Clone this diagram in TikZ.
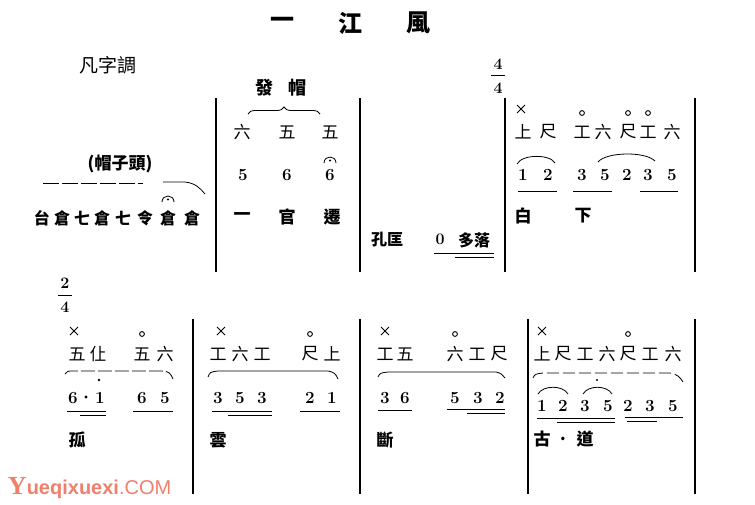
\documentclass[tikz,border=0pt]{standalone}
\usepackage{fontspec}
\newfontfamily\cjk{Noto Sans CJK TC}
\newfontfamily\wmsans{Liberation Sans}
\newfontfamily\wmserif{Liberation Serif}
\usetikzlibrary{decorations.pathreplacing}
\definecolor{wmcol}{HTML}{F0806C}
\begin{document}
\begin{tikzpicture}[x=1pt,y=-1pt,
  every node/.style={inner sep=0pt,outer sep=0pt},
  ttl/.style={font=\cjk\bfseries\fontsize{24}{24}\selectfont},
  gc/.style={font=\cjk\fontsize{17}{17}\selectfont},
  ly/.style={font=\cjk\bfseries\fontsize{16}{16}\selectfont},
  sm/.style={font=\cjk\bfseries\fontsize{16}{16}\selectfont},
  jp/.style={font=\bfseries\fontsize{17}{17}\selectfont},
  ts/.style={font=\bfseries\fontsize{16}{16}\selectfont},
  barline/.style={line width=1.6pt},
  ul/.style={line width=0.9pt},
  slur/.style={line width=0.8pt},
  longslur/.style={line width=0.8pt},
  xm/.pic={\draw[line width=0.9pt] (-4,-4)--(4,4) (-4,4)--(4,-4);},
  om/.pic={\draw[line width=0.9pt] (0,0) circle (2.4);},
  ferm/.pic={\draw[line width=0.8pt] (-6,3) .. controls (-6,-5) and (6,-5) .. (6,3);
             \fill (0,0.5) circle (1.1);}
]
\useasboundingbox[fill=white] (0,0) rectangle (755,504);

% ---------- title ----------
\node[ttl] (t1) at (282,23) {一};
\node[ttl] (t2) at (350,23) {江};
\node[ttl] (t3) at (418,23) {風};
\node[font=\cjk\fontsize{19}{19}\selectfont] (key) at (108,65) {凡字調};

% ---------- row 1 bar lines ----------
\foreach \x in {216,360,505,695} \draw[barline] (\x,98) -- (\x,272);

% ---------- measure 1 ----------
\node[font=\cjk\bfseries\fontsize{17}{17}\selectfont] (mzt) at (120,164) {(帽子頭)};
\draw[longslur,dash pattern=on 16pt off 3pt] (43,183) -- (143,183);
\draw[longslur] (163,182) -- (185,182) .. controls (195,183) and (200,188) .. (205,194);
\pic at (168,199) {ferm};
\foreach \x/\c [count=\i] in {42/台,62/倉,82/七,102/倉,123/七,145/令,168/倉,192/倉}
  \node[ly] (m1l\i) at (\x,218) {\c};

% ---------- measure 2 ----------
\node[sm,font=\cjk\bfseries\fontsize{18}{18}\selectfont] (fa) at (264,88) {發};
\node[sm,font=\cjk\bfseries\fontsize{18}{18}\selectfont] (mao) at (297,88) {帽};
\draw[line width=0.8pt,decorate,decoration={brace,amplitude=7pt}] (248,114) -- (320,114);
\foreach \x/\c [count=\i] in {242/六,287/五,330/五}
  \node[gc] (m2g\i) at (\x,132) {\c};
\foreach \x/\c [count=\i] in {243/5,287/6,330/6}
  \node[jp] (m2j\i) at (\x,175) {\c};
\pic at (330,160) {ferm};
\foreach \x/\c [count=\i] in {242/一,287/官,332/遷}
  \node[ly,font=\cjk\bfseries\fontsize{17}{17}\selectfont] (m2l\i) at (\x,217) {\c};

% ---------- measure 3 ----------
\node[sm] (kk) at (387,240) {孔匡};
\node[jp,font=\bfseries\fontsize{16}{16}\selectfont] (zero) at (440,239) {0};
\node[sm] (dl) at (474,240) {多落};
\draw[ul] (434,253) -- (494,253);
\draw[line width=0.6pt] (455,257) -- (494,257);

% ---------- time signature 4/4 ----------
\node[ts] (ts1a) at (498,64) {4};
\draw[line width=0.7pt] (491,75) -- (505,75);
\node[ts] (ts1b) at (498,88) {4};

% ---------- measure 4 ----------
\pic at (521,109) {xm};
\foreach \x in {582,628,648} \pic at (\x,113) {om};
\foreach \x/\c [count=\i] in {523/上,548/尺,582/工,603/六,628/尺,648/工,672/六}
  \node[gc] (m4g\i) at (\x,132) {\c};
\foreach \x/\c [count=\i] in {523/1,548/2,582/3,605/5,627/2,648/3,672/5}
  \node[jp] (m4j\i) at (\x,175) {\c};
\draw[slur] (517,164) .. controls (522,154) and (550,154) .. (555,163);
\draw[slur] (598,162) .. controls (606,152) and (645,151) .. (655,161);
\draw[ul] (518,191) -- (557,191);
\draw[ul] (573,191) -- (612,191);
\draw[ul] (640,191) -- (678,191);
\node[ly,font=\cjk\bfseries\fontsize{17}{17}\selectfont] (m4l1) at (523,216) {白};
\node[ly,font=\cjk\bfseries\fontsize{17}{17}\selectfont] (m4l2) at (583,216) {下};

% ---------- row 2 bar lines ----------
\foreach \x in {193,360,528,695} \draw[barline] (\x,319) -- (\x,494);

% ---------- time signature 2/4 ----------
\node[ts] (ts2a) at (65,283) {2};
\draw[line width=0.7pt] (58,295) -- (72,295);
\node[ts] (ts2b) at (65,307) {4};

% ---------- measure 5 ----------
\pic at (74,331) {xm};
\pic at (142,334) {om};
\foreach \x/\c [count=\i] in {77/五,98/仩,142/五,165/六}
  \node[gc] (m5g\i) at (\x,354) {\c};
\draw[longslur,dash pattern=on 14pt off 3pt] (65,374) .. controls (67,371) .. (75,371) -- (162,371) .. controls (169,371) and (171,374) .. (173,379);
\node[jp] (m5j1) at (73,398) {6};
\fill (86,397) circle (1.6);
\node[jp] (m5j2) at (100,398) {1};
\fill (99,380) circle (1.3);
\node[jp] (m5j3) at (142,398) {6};
\node[jp] (m5j4) at (165,398) {5};
\draw[ul] (67,411) -- (106,411);
\draw[ul] (80,415) -- (106,415);
\draw[ul] (133,411) -- (173,411);
\node[ly,font=\cjk\bfseries\fontsize{17}{17}\selectfont] (m5l1) at (77,440) {孤};

% ---------- measure 6 ----------
\pic at (221,331) {xm};
\pic at (310,334) {om};
\foreach \x/\c [count=\i] in {218/工,240/六,262/工,310/尺,332/上}
  \node[gc] (m6g\i) at (\x,354) {\c};
\draw[longslur] (208,377) .. controls (210,372) .. (218,371) -- (328,371) .. controls (334,372) and (336,374) .. (338,379);
\foreach \x/\c [count=\i] in {218/3,240/5,262/3,310/2,332/1}
  \node[jp] (m6j\i) at (\x,398) {\c};
\draw[ul] (212,411) -- (272,411);
\draw[ul] (228,415) -- (272,415);
\draw[ul] (300,411) -- (340,411);
\node[ly,font=\cjk\bfseries\fontsize{17}{17}\selectfont] (m6l1) at (218,440) {雲};

% ---------- measure 7 ----------
\pic at (385,331) {xm};
\pic at (455,334) {om};
\foreach \x/\c [count=\i] in {385/工,405/五,455/六,477/工,499/尺}
  \node[gc] (m7g\i) at (\x,354) {\c};
\draw[longslur] (378,377) .. controls (380,373) .. (388,372) -- (496,372) .. controls (501,373) and (503,375) .. (505,378);
\foreach \x/\c [count=\i] in {385/3,405/6,455/5,478/3,500/2}
  \node[jp] (m7j\i) at (\x,398) {\c};
\draw[ul] (378,410) -- (412,410);
\draw[ul] (447,409) -- (505,409);
\draw[ul] (467,413) -- (505,413);
\node[ly,font=\cjk\bfseries\fontsize{17}{17}\selectfont] (m7l1) at (385,440) {斷};

% ---------- measure 8 ----------
\pic at (542,331) {xm};
\pic at (628,334) {om};
\foreach \x/\c [count=\i] in {542/上,563/尺,585/工,607/六,628/尺,650/工,673/六}
  \node[gc] (m8g\i) at (\x,354) {\c};
\draw[longslur,dash pattern=on 12pt off 4pt] (533,378) .. controls (535,374) .. (543,373) -- (670,373) .. controls (677,374) and (680,377) .. (683,382);
\draw[slur] (538,394) .. controls (543,385) and (563,385) .. (568,394);
\draw[slur] (583,394) .. controls (588,385) and (607,385) .. (612,394);
\fill (597,380) circle (1.2);
\foreach \x/\c [count=\i] in {542/1,563/2,585/3,608/5,628/2,650/3,673/5}
  \node[jp] (m8j\i) at (\x,406) {\c};
\draw[ul] (537,418) -- (615,418);
\draw[ul] (557,422) -- (615,422);
\draw[ul] (625,417) -- (683,417);
\draw[ul] (627,421) -- (657,421);
\node[ly,font=\cjk\bfseries\fontsize{17}{17}\selectfont] (m8l1) at (542,439) {古};
\node[ly] (m8l2) at (563,439) {.};
\node[ly,font=\cjk\bfseries\fontsize{17}{17}\selectfont] (m8l3) at (585,439) {道};

% ---------- watermark ----------
\node[anchor=base west,text=wmcol] (wm) at (8,494)
  {{\wmserif\bfseries\fontsize{26}{26}\selectfont Y}{\wmsans\bfseries\fontsize{20}{20}\selectfont ueqixuexi}{\wmsans\fontsize{20}{20}\selectfont .COM}};
\end{tikzpicture}
\end{document}
